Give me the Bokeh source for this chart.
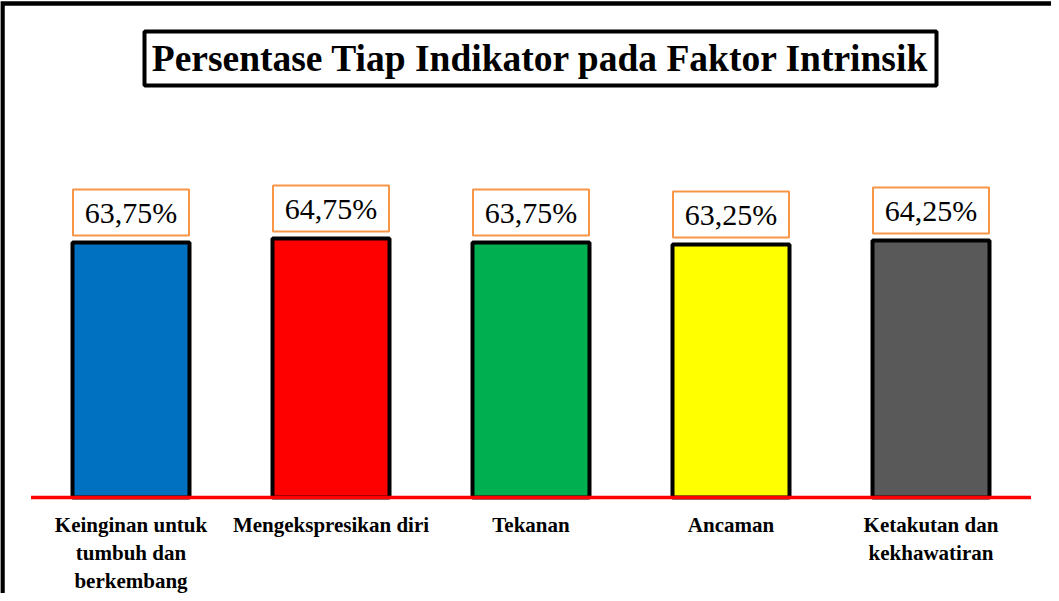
from bokeh.plotting import figure
from bokeh.models import Range1d, ColumnDataSource
from bokeh.core.properties import value
from bokeh.embed import file_html
from bokeh.resources import INLINE

# ---- data ----
categories = [
    "Keinginan untuk\ntumbuh dan\nberkembang",
    "Mengekspresikan diri",
    "Tekanan",
    "Ancaman",
    "Ketakutan dan\nkekhawatiran",
]
percentages = [63.75, 64.75, 63.75, 63.25, 64.25]
bar_colors = ["#0070C0", "#FF0000", "#00B050", "#FFFF00", "#595959"]
title_text = "Persentase Tiap Indikator pada Faktor Intrinsik"

SERIF = "'Liberation Serif', 'Times New Roman', serif"

W, H = 1051, 593
PX_X = 200.0   # pixels per category slot
PX_Y = 4.0     # pixels per percent unit
x0 = -130.5 / PX_X
y_base_px = 497.0
y_top = y_base_px / PX_Y
y_bottom = -(H - y_base_px) / PX_Y

p = figure(width=W, height=H, output_backend="svg", toolbar_location=None,
           x_range=Range1d(x0, x0 + W / PX_X), y_range=Range1d(y_bottom, y_top),
           x_axis_location=None, y_axis_location=None, min_border=0,
           outline_line_color=None, background_fill_color="white",
           border_fill_color="white")
p.xgrid.visible = False
p.ygrid.visible = False

n = len(categories)
idx = list(range(n))
labels = [f"{v:.2f}".replace(".", ",") + "%" for v in percentages]
src = ColumnDataSource(dict(x=idx, top=percentages, color=bar_colors,
                            label=labels, cat=categories,
                            ly=[v + 30 / PX_Y for v in percentages],
                            cy=[-15 / PX_Y] * n))

# outer frame (left and top edges visible)
fx = x0 + 2 / PX_X
fy = y_top - 3 / PX_Y
p.line(x=[fx, fx, x0 + 2 * W / PX_X], y=[y_bottom - 50, fy, fy],
       line_color="black", line_width=4.5, line_join="miter")

# bars
p.vbar(x="x", top="top", bottom=0, width=0.585, source=src,
       fill_color="color", line_color="black", line_width=4)

# baseline
p.line(x=[-0.5, n - 0.5], y=[0, 0], line_color="#FF0000", line_width=3.5)

# value label boxes
p.rect(x="x", y="ly", width=116, height=46, width_units="screen",
       height_units="screen", source=src, fill_color="white",
       line_color="#F79646", line_width=2)
p.text(x="x", y="ly", text="label", source=src,
       text_font=value(SERIF), text_font_size="30px", text_font_style="normal",
       text_align="center", text_baseline="middle", text_color="black")

# category labels
p.text(x="x", y="cy", text="cat", source=src,
       text_font=value(SERIF), text_font_size="21px",
       text_font_style="bold", text_align="center", text_baseline="top",
       text_line_height=1.18, text_color="black")

# title box
tx = x0 + 540 / PX_X
ty = (y_base_px - 58) / PX_Y
p.rect(x=[tx], y=[ty], width=792, height=54, width_units="screen",
       height_units="screen", fill_color="white", line_color="black",
       line_width=4)
p.text(x=[tx], y=[ty], text=[title_text],
       text_font=value(SERIF), text_font_size="37.5px",
       text_font_style="bold", text_align="center", text_baseline="middle",
       text_color="black")

open("out.html", "w").write(file_html(p, INLINE))
